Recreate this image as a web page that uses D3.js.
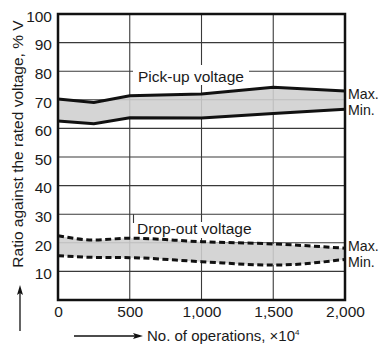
<!DOCTYPE html>
<html>
<head>
<meta charset="utf-8">
<script src="https://cdn.jsdelivr.net/npm/d3@7"></script>
<style>
html,body{margin:0;padding:0;background:#fff;}
svg{display:block;}
text{font-family:"Liberation Sans",Arial,Helvetica,sans-serif;fill:#1a1a1a;}
</style>
</head>
<body>
<svg id="chart" width="383" height="346"></svg>
<script>
const operations = [0, 250, 500, 1000, 1500, 2000];
const pickupMax = [70.3, 69.1, 71.4, 72.0, 74.4, 73.1];
const pickupMin = [62.6, 61.6, 63.7, 63.6, 65.2, 66.7];
const dropoutMax = [22.5, 21.0, 21.6, 20.4, 19.6, 18.1];
const dropoutMin = [15.5, 14.9, 14.8, 13.4, 12.2, 14.2];
const xTicks = [0, 500, 1000, 1500, 2000];
const yTicks = [10, 20, 30, 40, 50, 60, 70, 80, 90, 100];
const xTickLabels = ["0", "500", "1,000", "1,500", "2,000"];

const svg = d3.select("#chart");
const x = d3.scaleLinear().domain([0, 2000]).range([58, 345]);
const y = d3.scaleLinear().domain([0, 100]).range([300, 14]);
const FS = 15.5;

// gridlines
const grid = svg.append("g").attr("stroke", "#3a3a3a").attr("stroke-width", 1.1);
yTicks.filter(v => v < 100).forEach(v => {
  grid.append("line").attr("x1", x(0)).attr("x2", x(2000)).attr("y1", y(v)).attr("y2", y(v));
});
xTicks.filter(v => v > 0 && v < 2000).forEach(v => {
  grid.append("line").attr("x1", x(v)).attr("x2", x(v)).attr("y1", y(0)).attr("y2", y(100));
});

// label backing boxes (under the data)
svg.append("rect").attr("x", 133).attr("y", 65).attr("width", 116).attr("height", 20).attr("fill", "#fff");
svg.append("rect").attr("x", 134).attr("y", 222).attr("width", 122).attr("height", 16).attr("fill", "#fff");
svg.append("line").attr("x1", 133.5).attr("x2", 133.5).attr("y1", y(30)).attr("y2", 223)
  .attr("stroke", "#3a3a3a").attr("stroke-width", 1.1);

function band(maxArr, minArr, curve) {
  const data = operations.map((o, i) => ({o, hi: maxArr[i], lo: minArr[i]}));
  svg.append("path").datum(data)
    .attr("d", d3.area().x(d => x(d.o)).y0(d => y(d.lo)).y1(d => y(d.hi)).curve(curve))
    .attr("fill", "#cfcfcf").attr("fill-opacity", 0.88);
  return data;
}
const pData = band(pickupMax, pickupMin, d3.curveLinear);
const dData = band(dropoutMax, dropoutMin, d3.curveMonotoneX);

function drawLine(data, key, curve, dash) {
  svg.append("path").datum(data)
    .attr("d", d3.line().x(d => x(d.o)).y(d => y(d[key])).curve(curve))
    .attr("fill", "none").attr("stroke", "#111").attr("stroke-width", 3)
    .attr("stroke-dasharray", dash || null);
}
drawLine(pData, "hi", d3.curveLinear);
drawLine(pData, "lo", d3.curveLinear);
drawLine(dData, "hi", d3.curveMonotoneX, "6,3.5");
drawLine(dData, "lo", d3.curveMonotoneX, "6,3.5");

svg.append("text").attr("x", 138).attr("y", 82).attr("font-size", FS).text("Pick-up voltage");
svg.append("text").attr("x", 137).attr("y", 234).attr("font-size", FS).text("Drop-out voltage");

// frame
svg.append("rect").attr("x", x(0)).attr("y", y(100)).attr("width", x(2000) - x(0)).attr("height", y(0) - y(100))
  .attr("fill", "none").attr("stroke", "#111").attr("stroke-width", 2.5);

// axes via d3
const yAxis = svg.append("g").attr("transform", `translate(${x(0)},0)`)
  .call(d3.axisLeft(y).tickValues(yTicks).tickSize(0).tickPadding(6));
yAxis.select(".domain").remove();
yAxis.selectAll("text").attr("font-size", FS).attr("font-family", null).attr("dy", "0.47em");

const xAxis = svg.append("g").attr("transform", `translate(0,${y(0)})`)
  .call(d3.axisBottom(x).tickValues(xTicks).tickFormat((d, i) => xTickLabels[i]).tickSize(0).tickPadding(6));
xAxis.select(".domain").remove();
xAxis.selectAll("text").attr("font-size", FS).attr("font-family", null);

// Max/Min labels
[["Max.", 98.5], ["Min.", 114.5], ["Max.", 250.8], ["Min.", 266.5]].forEach(([t, yy]) => {
  svg.append("text").attr("x", 348).attr("y", yy).attr("font-size", 14.2).text(t);
});

// axis titles
svg.append("text").attr("transform", "translate(23,144) rotate(-90)")
  .attr("text-anchor", "middle").attr("font-size", FS)
  .text("Ratio against the rated voltage, % V");
svg.append("text").attr("x", 147).attr("y", 341).attr("font-size", 15)
  .html('No. of operations, ×10<tspan font-size="8" dy="-6">4</tspan>');

// arrows
svg.append("line").attr("x1", 20).attr("x2", 20).attr("y1", 331).attr("y2", 292).attr("stroke", "#111").attr("stroke-width", 1.3);
svg.append("path").attr("d", "M20,285 L23,295 L20,293 L17,295 Z").attr("fill", "#111");
svg.append("line").attr("x1", 74).attr("x2", 136).attr("y1", 336).attr("y2", 336).attr("stroke", "#111").attr("stroke-width", 1.3);
svg.append("path").attr("d", "M143,336 L133,333 L135,336 L133,339 Z").attr("fill", "#111");
</script>
</body>
</html>
